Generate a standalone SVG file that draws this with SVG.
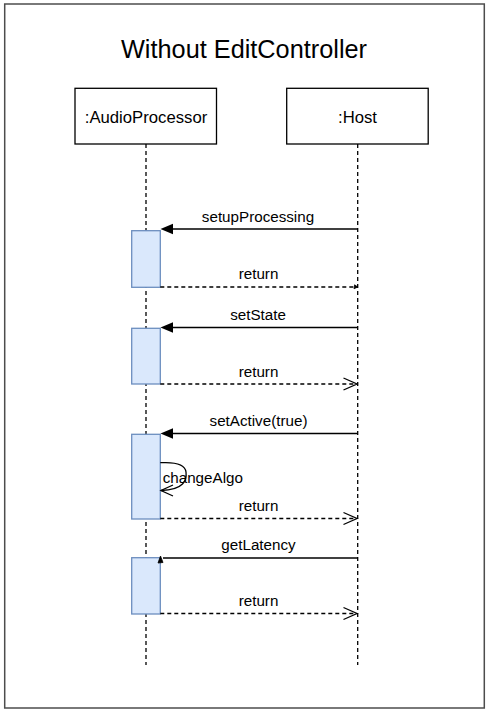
<svg xmlns="http://www.w3.org/2000/svg" width="489" height="713" viewBox="0 0 489 713">
<style>
text{font-family:"Liberation Sans",Arial,sans-serif;fill:#000}
.lbl{font-size:15.2px;text-anchor:middle}
.box{fill:#fff;stroke:#000;stroke-width:1.3}
.life{stroke:#000;stroke-width:1.3;stroke-dasharray:4 3;fill:none}
.act{fill:#dae8fc;stroke:#6c8ebf;stroke-width:1.3}
.call{stroke:#000;stroke-width:1.4;fill:none}
.ret{stroke:#000;stroke-width:1.3;stroke-dasharray:4 3;fill:none}
.open{stroke:#000;stroke-width:1.3;fill:none}
</style>
<rect width="489" height="713" fill="#fff"/>
<rect x="4.7" y="4" width="479.6" height="704" fill="#fff" stroke="#4d4d4d" stroke-width="1.5"/>
<text x="244" y="58" font-size="25.3" text-anchor="middle">Without EditController</text>

<g id="audioprocessor">
<rect class="box" x="75" y="88.3" width="141.5" height="55.7"/>
<text x="146" y="122.5" font-size="16.7" text-anchor="middle">:AudioProcessor</text>
<line class="life" x1="146" y1="144" x2="146" y2="665"/>
</g>
<g id="host">
<rect class="box" x="286.7" y="88.3" width="141.5" height="55.7"/>
<text x="357.5" y="122.5" font-size="16.7" text-anchor="middle">:Host</text>
<line class="life" x1="357.7" y1="144" x2="357.7" y2="665"/>
</g>

<g id="act1"><rect class="act" x="131.7" y="230.7" width="28.6" height="56.6"/></g>
<g id="act2"><rect class="act" x="131.7" y="328.3" width="28.6" height="55.7"/></g>
<g id="act3"><rect class="act" x="131.7" y="434.3" width="28.6" height="84.7"/></g>
<g id="act4"><rect class="act" x="131.7" y="557.7" width="28.6" height="56.3"/></g>

<g id="connectors">
<!-- setupProcessing -->
<line class="call" x1="357.7" y1="229" x2="172" y2="229"/>
<path d="M160.5 229 L173 223.8 L173 234.2 Z" fill="#000"/>
<text class="lbl" x="258" y="222">setupProcessing</text>
<!-- return 1 -->
<line class="ret" x1="160.3" y1="287" x2="357" y2="287"/>
<path d="M357.7 287 L354 288.8 L354.6 284.8 Z" fill="#000" stroke="#000" stroke-width="0.8"/>
<text class="lbl" x="258.5" y="279">return</text>
<!-- setState -->
<line class="call" x1="357.7" y1="327.5" x2="172" y2="327.5"/>
<path d="M160.5 327.5 L173 322.3 L173 332.7 Z" fill="#000"/>
<text class="lbl" x="258" y="320">setState</text>
<!-- return 2 -->
<line class="ret" x1="160.3" y1="384" x2="356" y2="384"/>
<path class="open" d="M343.5 378 L357 384 L343.5 390"/>
<text class="lbl" x="258.5" y="377">return</text>
<!-- setActive -->
<line class="call" x1="357.7" y1="433.5" x2="172" y2="433.5"/>
<path d="M160.5 433.5 L173 428.3 L173 438.7 Z" fill="#000"/>
<text class="lbl" x="258.5" y="426">setActive(true)</text>
<!-- changeAlgo self call -->
<path class="open" d="M160.3 462.7 C172 462 185 463 186 472 C187 480 184 490 161 490.5"/>
<path class="open" d="M173 485 L161 490.5 L173 496"/>
<text x="162.7" y="482.7" font-size="15.2">changeAlgo</text>
<!-- return 3 -->
<line class="ret" x1="160.3" y1="518.5" x2="356" y2="518.5"/>
<path class="open" d="M343.5 512.5 L357 518.5 L343.5 524.5"/>
<text class="lbl" x="258.5" y="511">return</text>
<!-- getLatency -->
<line class="call" x1="357.7" y1="558" x2="163" y2="558"/>
<path d="M158 563 L160.5 556 L163 562.5 Z" fill="#000" stroke="#000" stroke-width="0.8"/>
<text class="lbl" x="258.5" y="550">getLatency</text>
<!-- return 4 -->
<line class="ret" x1="160.3" y1="613.5" x2="356" y2="613.5"/>
<path class="open" d="M343.5 607.5 L357 613.5 L343.5 619.5"/>
<text class="lbl" x="258.5" y="606">return</text>
</g>
</svg>
